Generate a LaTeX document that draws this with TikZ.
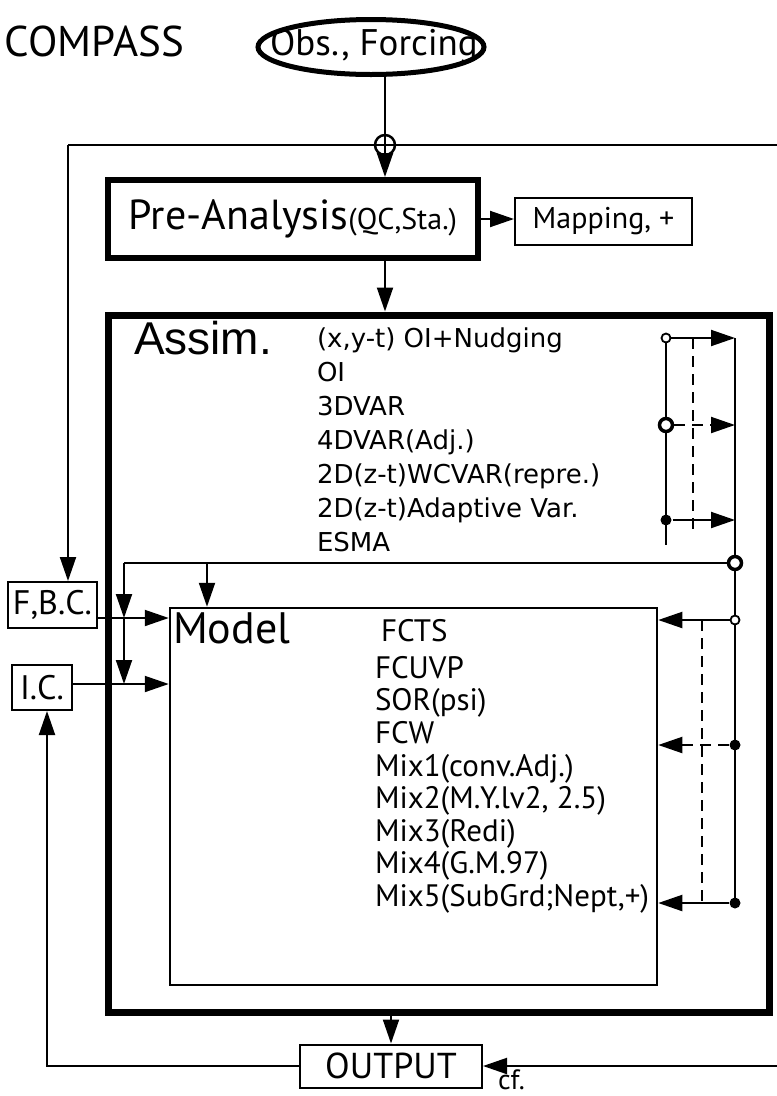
\documentclass[tikz,border=0pt]{standalone}
\usepackage{fontspec}
\setmainfont{PT Sans}
\newfontfamily\genevafont{DejaVu Sans}
\newfontfamily\helvfont{Liberation Sans}
\usetikzlibrary{arrows.meta,shapes.geometric}
\newcommand{\fs}[1]{\fontsize{#1}{#1}\selectfont}
\begin{document}
\begin{tikzpicture}[x=1pt,y=-1pt,line width=2pt,
  tip/.style={-{Triangle[length=24pt,width=16pt]}},
  box/.style={draw,line width=2pt,inner sep=0pt},
  txt/.style={anchor=base west,inner sep=0pt},
  asl/.style={txt,font=\genevafont\fs{26}},
  mdl/.style={txt,font=\fs{31}},
  dsh/.style={dash pattern=on 11pt off 7pt},
  opendot/.style={circle,draw,fill=white,line width=1.8pt,minimum size=9pt,inner sep=0pt},
  bigdot/.style={circle,draw,fill=white,line width=3.5pt,minimum size=13pt,inner sep=0pt},
  fulldot/.style={circle,fill=black,minimum size=11pt,inner sep=0pt}]
\useasboundingbox (0,0) rectangle (777,1096);
% title
\node[txt,font=\fs{43}] (title) at (4,56) {COMPASS};
% top part
\node[ellipse,draw,line width=5pt,minimum width=226pt,minimum height=55pt,inner sep=0pt] (obs) at (371,47) {};
\node[inner sep=0pt,font=\fs{37}] (obst) at (374,46) {Obs., Forcing};
\node[circle,draw,line width=2.5pt,minimum size=20pt,inner sep=0pt] (plus) at (385,145) {};
\coordinate (tl) at (68,145);
\coordinate (tr) at (777,145);
\draw (obs.south -| plus) -- (plus.north) -- (plus.south);
\draw (tr) -- (tl);
\node[box,line width=6pt,minimum width=370pt,minimum height=78pt] (pre) at (293,219)
  {\fs{42}Pre-Analysis\fs{30}(QC,Sta.)};
\node[box,minimum width=177pt,minimum height=47pt,font=\fs{30}] (map) at (603.5,221.5) {Mapping, +};
\draw[tip] (plus.south) -- (plus |- pre.north);
\draw[tip] (pre.east) -- (pre.east -| map.west);
% assimilation box
\node[box,line width=7pt,minimum width=661pt,minimum height=697pt] (assim) at (438.5,663.5) {};
\draw[tip] (pre.south -| plus) -- (plus |- assim.north);
\node[txt,font=\helvfont\fs{46}] (assimt) at (133,354) {Assim.};
\node[asl] (a1) at (316,347) {(x,y-t) OI+Nudging};
\node[asl] (a2) at (316,381) {OI};
\node[asl] (a3) at (316,415) {3DVAR};
\node[asl] (a4) at (316,449) {4DVAR(Adj.)};
\node[asl] (a5) at (316,483) {2D(z-t)WCVAR(repre.)};
\node[asl] (a6) at (316,517) {2D(z-t)Adaptive Var.};
\node[asl] (a7) at (316,551) {ESMA};
% right column in assim
\coordinate (r1) at (735,338);
\coordinate (r2) at (735,903);
\coordinate (l1) at (666,338);
\coordinate (l2) at (666,545);
\coordinate (k1) at (693,338);
\coordinate (k2) at (693,530);
\draw (l1) -- (l2);
\draw (r1) -- (r2);
\draw[dsh] (k1) -- (k2);
\node[opendot] (d1) at (666,338) {};
\node[bigdot] (d2) at (666,425) {};
\node[fulldot] (d3) at (666,520) {};
\draw[tip] (d1) -- (d1 -| r1);
\draw[tip,dsh] (d2) -- (d2 -| r1);
\draw[tip] (d3) -- (d3 -| r1);
% side boxes
\node[box,minimum width=89pt,minimum height=46pt,font=\fs{34}] (fbc) at (52.5,605) {F,B.C.};
\node[box,minimum width=60pt,minimum height=45pt,font=\fs{34}] (ic) at (42,687.5) {I.C.};
% model box
\node[box,line width=2.5pt,minimum width=487pt,minimum height=377pt] (model) at (413.5,796.5) {};
\node[txt,font=\fs{44}] (modelt) at (172,643) {Model};
\node[mdl] (m1) at (380,641) {FCTS};
\node[mdl] (m2) at (374,678) {FCUVP};
\node[mdl] (m3) at (374,710) {SOR(psi)};
\node[mdl] (m4) at (374,743) {FCW};
\node[mdl] (m5) at (374,776) {Mix1(conv.Adj.)};
\node[mdl] (m6) at (374,808) {Mix2(M.Y.lv2, 2.5)};
\node[mdl] (m7) at (374,841) {Mix3(Redi)};
\node[mdl] (m8) at (374,873) {Mix4(G.M.97)};
\node[mdl] (m9) at (374,906) {Mix5(SubGrd;Nept,+)};
% feedback from assim into model
\node[bigdot] (fb) at (735,563) {};
\coordinate (fbl) at (124,563);
\coordinate (fbm) at (207,563);
\coordinate (fbo) at (97,618);
\coordinate (ico) at (72,684);
\draw (fb) -- (fbl);
\draw[tip] (fbl) -- (fbl |- fbo);
\draw[tip] (fbl |- fbo) -- (fbl |- ico);
\draw[tip] (fbm) -- (fbm |- model.north);
\draw[tip] (fbo) -- (fbo -| model.west);
\draw[tip] (ico) -- (ico -| model.west);
\draw[tip] (tl) -- (tl |- fbc.north);
% arrows into model from right
\coordinate (j1) at (702,620);
\coordinate (j2) at (702,903);
\draw[dsh] (j1) -- (j2);
\node[opendot] (e1) at (735,620) {};
\node[fulldot] (e2) at (735,745) {};
\node[fulldot] (e3) at (735,903) {};
\draw[tip] (e1) -- (e1 -| model.east);
\draw[tip,dsh] (e2) -- (e2 -| model.east);
\draw[tip] (e3) -- (e3 -| model.east);
% output
\node[box,minimum width=182pt,minimum height=43pt,font=\fs{36}] (out) at (391,1066) {OUTPUT};
\draw[tip] (assim.south -| out) -- (out.north);
\coordinate (bl) at (47,1066);
\coordinate (br) at (777,1066);
\draw[tip] (out.west) -- (bl) -- (bl |- ic.south);
\draw[tip] (br) -- (out.east);
\node[txt,font=\fs{28}] (cf) at (497,1089) {cf.};
\end{tikzpicture}
\end{document}
